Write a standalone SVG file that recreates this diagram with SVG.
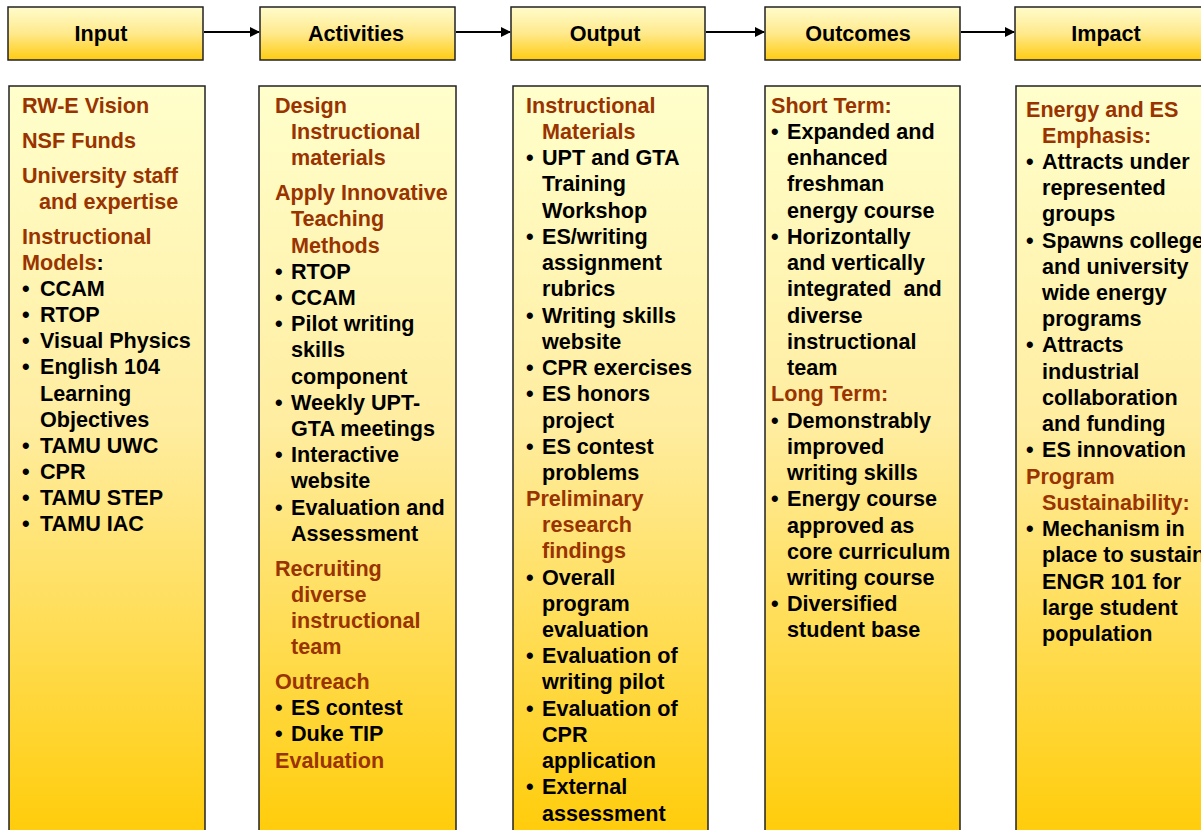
<svg xmlns="http://www.w3.org/2000/svg" width="1201" height="830" viewBox="0 0 1201 830">
<defs>
<linearGradient id="hg" x1="0" y1="0" x2="0" y2="1">
<stop offset="0" stop-color="#FFFCCC"/>
<stop offset="0.5" stop-color="#FFE98C"/>
<stop offset="1" stop-color="#FFCC11"/>
</linearGradient>
<linearGradient id="cg" gradientUnits="userSpaceOnUse" x1="0" y1="86" x2="0" y2="840">
<stop offset="0" stop-color="#FFFFCC"/>
<stop offset="0.45" stop-color="#FFEDA0"/>
<stop offset="1" stop-color="#FFCC08"/>
</linearGradient>
<marker id="ah" markerWidth="10" markerHeight="10" refX="9" refY="5" orient="auto" markerUnits="userSpaceOnUse">
<path d="M0,0 L10,5 L0,10 z" fill="#000"/>
</marker>
<style>
.hdr{fill:url(#hg);stroke:#222;stroke-width:1.5}
.col{fill:url(#cg);stroke:#222;stroke-width:1.5}
text{font-family:"Liberation Sans",Arial,sans-serif;font-weight:bold;font-size:21.6px}
.ht{text-anchor:middle;fill:#000}
.r{fill:#993300}
.k{fill:#000}
.con{stroke:#000;stroke-width:2;fill:none;marker-end:url(#ah)}
</style>
</defs>
<rect width="1201" height="830" fill="#fff"/>

<g id="connectors">
<line class="con" x1="204" y1="32" x2="259" y2="32"/>
<line class="con" x1="456" y1="32" x2="510" y2="32"/>
<line class="con" x1="706" y1="32" x2="764" y2="32"/>
<line class="con" x1="961" y1="32" x2="1014" y2="32"/>
</g>

<g id="hdr-input"><rect class="hdr" x="8" y="7" width="195" height="53"/><text class="ht" x="101" y="41">Input</text></g>
<g id="hdr-activities"><rect class="hdr" x="260" y="7" width="195" height="53"/><text class="ht" x="356" y="41">Activities</text></g>
<g id="hdr-output"><rect class="hdr" x="511" y="7" width="194" height="53"/><text class="ht" x="605" y="41">Output</text></g>
<g id="hdr-outcomes"><rect class="hdr" x="765" y="7" width="195" height="53"/><text class="ht" x="858" y="41">Outcomes</text></g>
<g id="hdr-impact"><rect class="hdr" x="1015" y="7" width="195" height="53"/><text class="ht" x="1106" y="41">Impact</text></g>

<g id="col-input">
<rect class="col" x="9" y="86" width="196" height="760"/>
<text class="r" x="22" y="113">RW-E Vision</text>
<text class="r" x="22" y="148">NSF Funds</text>
<text class="r" x="22" y="183">University staff</text>
<text class="r" x="39" y="209">and expertise</text>
<text class="r" x="22" y="244">Instructional</text>
<text class="r" x="22" y="270">Models<tspan class="k">:</tspan></text>
<text class="k" x="22" y="296">•</text><text class="k" x="40" y="296">CCAM</text>
<text class="k" x="22" y="322">•</text><text class="k" x="40" y="322">RTOP</text>
<text class="k" x="22" y="348">•</text><text class="k" x="40" y="348">Visual Physics</text>
<text class="k" x="22" y="374">•</text><text class="k" x="40" y="374">English 104</text>
<text class="k" x="40" y="401">Learning</text>
<text class="k" x="40" y="427">Objectives</text>
<text class="k" x="22" y="453">•</text><text class="k" x="40" y="453">TAMU UWC</text>
<text class="k" x="22" y="479">•</text><text class="k" x="40" y="479">CPR</text>
<text class="k" x="22" y="505">•</text><text class="k" x="40" y="505">TAMU STEP</text>
<text class="k" x="22" y="531">•</text><text class="k" x="40" y="531">TAMU IAC</text>
</g>

<g id="col-activities">
<rect class="col" x="259" y="86" width="197" height="760"/>
<text class="r" x="275" y="113">Design</text>
<text class="r" x="291" y="139">Instructional</text>
<text class="r" x="291" y="165">materials</text>
<text class="r" x="275" y="200">Apply Innovative</text>
<text class="r" x="291" y="226">Teaching</text>
<text class="r" x="291" y="253">Methods</text>
<text class="k" x="275" y="279">•</text><text class="k" x="291" y="279">RTOP</text>
<text class="k" x="275" y="305">•</text><text class="k" x="291" y="305">CCAM</text>
<text class="k" x="275" y="331">•</text><text class="k" x="291" y="331">Pilot writing</text>
<text class="k" x="291" y="357">skills</text>
<text class="k" x="291" y="384">component</text>
<text class="k" x="275" y="410">•</text><text class="k" x="291" y="410">Weekly UPT-</text>
<text class="k" x="291" y="436">GTA meetings</text>
<text class="k" x="275" y="462">•</text><text class="k" x="291" y="462">Interactive</text>
<text class="k" x="291" y="488">website</text>
<text class="k" x="275" y="515">•</text><text class="k" x="291" y="515">Evaluation and</text>
<text class="k" x="291" y="541">Assessment</text>
<text class="r" x="275" y="576">Recruiting</text>
<text class="r" x="291" y="602">diverse</text>
<text class="r" x="291" y="628">instructional</text>
<text class="r" x="291" y="654">team</text>
<text class="r" x="275" y="689">Outreach</text>
<text class="k" x="275" y="715">•</text><text class="k" x="291" y="715">ES contest</text>
<text class="k" x="275" y="741">•</text><text class="k" x="291" y="741">Duke TIP</text>
<text class="r" x="275" y="768">Evaluation</text>
</g>

<g id="col-output">
<rect class="col" x="513" y="86" width="195" height="760"/>
<text class="r" x="526" y="113">Instructional</text>
<text class="r" x="542" y="139">Materials</text>
<text class="k" x="526" y="165">•</text><text class="k" x="542" y="165">UPT and GTA</text>
<text class="k" x="542" y="191">Training</text>
<text class="k" x="542" y="218">Workshop</text>
<text class="k" x="526" y="244">•</text><text class="k" x="542" y="244">ES/writing</text>
<text class="k" x="542" y="270">assignment</text>
<text class="k" x="542" y="296">rubrics</text>
<text class="k" x="526" y="323">•</text><text class="k" x="542" y="323">Writing skills</text>
<text class="k" x="542" y="349">website</text>
<text class="k" x="526" y="375">•</text><text class="k" x="542" y="375">CPR exercises</text>
<text class="k" x="526" y="401">•</text><text class="k" x="542" y="401">ES honors</text>
<text class="k" x="542" y="428">project</text>
<text class="k" x="526" y="454">•</text><text class="k" x="542" y="454">ES contest</text>
<text class="k" x="542" y="480">problems</text>
<text class="r" x="526" y="506">Preliminary</text>
<text class="r" x="542" y="532">research</text>
<text class="r" x="542" y="558">findings</text>
<text class="k" x="526" y="585">•</text><text class="k" x="542" y="585">Overall</text>
<text class="k" x="542" y="611">program</text>
<text class="k" x="542" y="637">evaluation</text>
<text class="k" x="526" y="663">•</text><text class="k" x="542" y="663">Evaluation of</text>
<text class="k" x="542" y="689">writing pilot</text>
<text class="k" x="526" y="716">•</text><text class="k" x="542" y="716">Evaluation of</text>
<text class="k" x="542" y="742">CPR</text>
<text class="k" x="542" y="768">application</text>
<text class="k" x="526" y="794">•</text><text class="k" x="542" y="794">External</text>
<text class="k" x="542" y="821">assessment</text>
</g>

<g id="col-outcomes">
<rect class="col" x="765" y="86" width="195" height="760"/>
<text class="r" x="771" y="113">Short Term:</text>
<text class="k" x="771" y="139">•</text><text class="k" x="787" y="139">Expanded and</text>
<text class="k" x="787" y="165">enhanced</text>
<text class="k" x="787" y="191">freshman</text>
<text class="k" x="787" y="218">energy course</text>
<text class="k" x="771" y="244">•</text><text class="k" x="787" y="244">Horizontally</text>
<text class="k" x="787" y="270">and vertically</text>
<text class="k" x="787" y="296" xml:space="preserve">integrated  and</text>
<text class="k" x="787" y="323">diverse</text>
<text class="k" x="787" y="349">instructional</text>
<text class="k" x="787" y="375">team</text>
<text class="r" x="771" y="401">Long Term:</text>
<text class="k" x="771" y="428">•</text><text class="k" x="787" y="428">Demonstrably</text>
<text class="k" x="787" y="454">improved</text>
<text class="k" x="787" y="480">writing skills</text>
<text class="k" x="771" y="506">•</text><text class="k" x="787" y="506">Energy course</text>
<text class="k" x="787" y="533">approved as</text>
<text class="k" x="787" y="559">core curriculum</text>
<text class="k" x="787" y="585">writing course</text>
<text class="k" x="771" y="611">•</text><text class="k" x="787" y="611">Diversified</text>
<text class="k" x="787" y="637">student base</text>
</g>

<g id="col-impact">
<rect class="col" x="1016" y="86" width="195" height="760"/>
<text class="r" x="1026" y="117">Energy and ES</text>
<text class="r" x="1042" y="143">Emphasis:</text>
<text class="k" x="1026" y="169">•</text><text class="k" x="1042" y="169">Attracts under</text>
<text class="k" x="1042" y="195">represented</text>
<text class="k" x="1042" y="221">groups</text>
<text class="k" x="1026" y="248">•</text><text class="k" x="1042" y="248">Spawns college</text>
<text class="k" x="1042" y="274">and university</text>
<text class="k" x="1042" y="300">wide energy</text>
<text class="k" x="1042" y="326">programs</text>
<text class="k" x="1026" y="352">•</text><text class="k" x="1042" y="352">Attracts</text>
<text class="k" x="1042" y="379">industrial</text>
<text class="k" x="1042" y="405">collaboration</text>
<text class="k" x="1042" y="431">and funding</text>
<text class="k" x="1026" y="457">•</text><text class="k" x="1042" y="457">ES innovation</text>
<text class="r" x="1026" y="484">Program</text>
<text class="r" x="1042" y="510">Sustainability:</text>
<text class="k" x="1026" y="536">•</text><text class="k" x="1042" y="536">Mechanism in</text>
<text class="k" x="1042" y="562">place to sustain</text>
<text class="k" x="1042" y="589">ENGR 101 for</text>
<text class="k" x="1042" y="615">large student</text>
<text class="k" x="1042" y="641">population</text>
</g>
</svg>
